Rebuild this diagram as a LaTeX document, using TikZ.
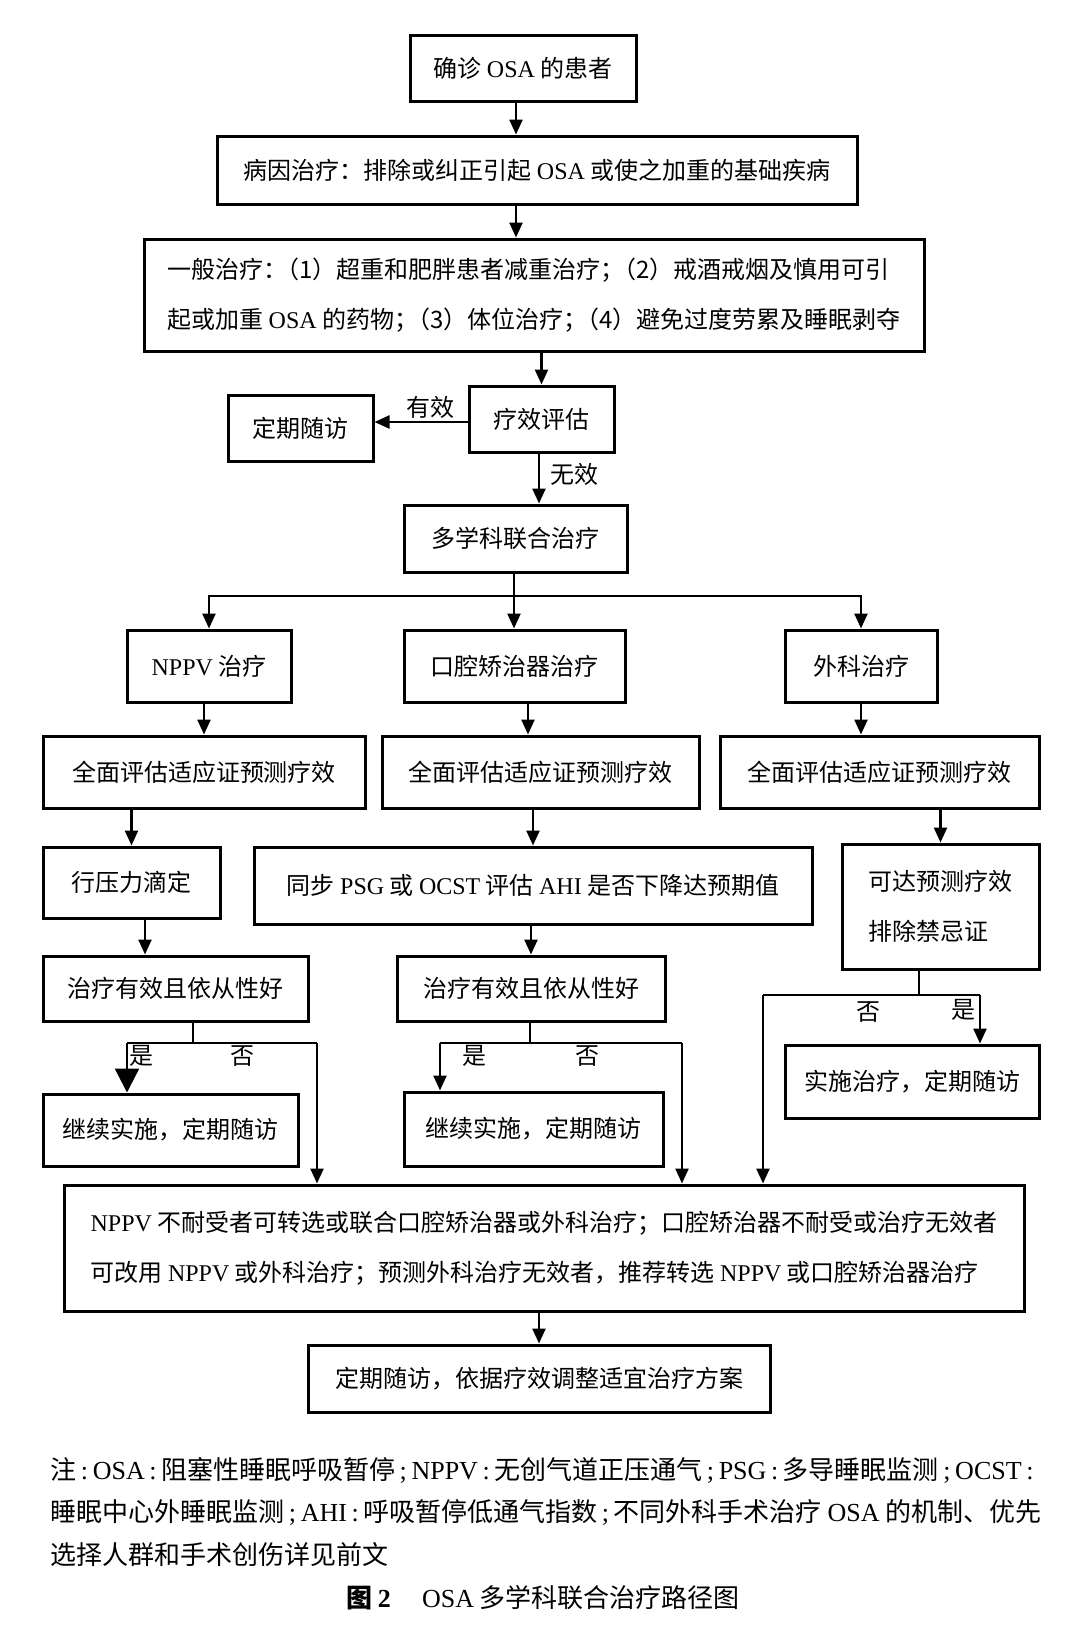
\documentclass[tikz,border=0pt]{standalone}
\usepackage{fontspec}
\setmainfont{Noto Sans CJK SC}
\newfontfamily\latf{Liberation Serif}
\newcommand\EN[1]{{\latf #1}}
\newcommand\PU[1]{\makebox[0.63em][c]{\latf #1}}
\newcommand\KP{\kern-0.5em}
\usetikzlibrary{arrows.meta,calc}
\begin{document}
\begin{tikzpicture}[x=0.5pt,y=-0.5pt,
  box/.style={draw,line width=1.5pt,inner sep=0pt,font=\fontsize{12pt}{25pt}\selectfont},
  arr/.style={line width=1.2pt,-{Triangle[length=7.5pt,width=6.5pt]}},
  bigarr/.style={line width=1.2pt,-{Triangle[length=12pt,width=12pt]}},
  ln/.style={line width=1.2pt},
  lab/.style={font=\fontsize{12pt}{14pt}\selectfont,inner sep=0pt},
  note/.style={font=\fontsize{13pt}{16pt}\selectfont,inner sep=0pt,anchor=west}]
\fill[white] (0,0) rectangle (1080,1630);
\useasboundingbox (0,0) rectangle (1080,1630);

% nodes
\node[box,minimum width=113pt,minimum height=33pt] (n1) at (523,68) {确诊 \EN{OSA} 的患者};
\node[box,minimum width=320pt,minimum height=34pt] (n2) at (537,170) {病因治疗：排除或纠正引起 \EN{OSA} 或使之加重的基础疾病};
\node[box,minimum width=390pt,minimum height=56pt,align=left] (n3) at (534,295) {一般治疗：\KP（1）超重和肥胖患者减重治疗；\KP（2）戒酒戒烟及慎用可引\\起或加重 \EN{OSA} 的药物；\KP（3）体位治疗；\KP（4）避免过度劳累及睡眠剥夺};
\node[box,minimum width=72.5pt,minimum height=33pt] (n4) at (541.5,419) {疗效评估};
\node[box,minimum width=72.5pt,minimum height=33pt] (n5) at (300.5,428) {定期随访};
\node[box,minimum width=111.5pt,minimum height=33.5pt] (n6) at (515.5,538.5) {多学科联合治疗};

\node[box,minimum width=82pt,minimum height=36pt] (nppv) at (209,666) {\EN{NPPV} 治疗};
\node[box,minimum width=110.5pt,minimum height=36pt] (kq) at (514.5,666) {口腔矫治器治疗};
\node[box,minimum width=76pt,minimum height=36pt] (wk) at (861,666) {外科治疗};

\node[box,minimum width=161pt,minimum height=36pt] (qL) at (204,772) {全面评估适应证预测疗效};
\node[box,minimum width=158.5pt,minimum height=36pt] (qM) at (540.5,772) {全面评估适应证预测疗效};
\node[box,minimum width=159.5pt,minimum height=36pt] (qR) at (879.5,772) {全面评估适应证预测疗效};

\node[box,minimum width=88.5pt,minimum height=35.5pt] (yl) at (131.5,882.5) {行压力滴定};
\node[box,minimum width=279pt,minimum height=38.5pt] (tb) at (533,885.5) {同步 \EN{PSG} 或 \EN{OCST} 评估 \EN{AHI} 是否下降达预期值};
\node[box,minimum width=98.5pt,minimum height=62.5pt,align=left] (kd) at (940.5,906.5) {可达预测疗效\\排除禁忌证};

\node[box,minimum width=132.5pt,minimum height=32.5pt] (zL) at (175.5,988.5) {治疗有效且依从性好};
\node[box,minimum width=134pt,minimum height=32.5pt] (zM) at (531,988.5) {治疗有效且依从性好};

\node[box,minimum width=127.5pt,minimum height=36pt] (jL) at (170.5,1130) {继续实施，定期随访};
\node[box,minimum width=129.5pt,minimum height=37pt] (jM) at (533.5,1129) {继续实施，定期随访};
\node[box,minimum width=127pt,minimum height=36.5pt] (ss) at (912,1081.5) {实施治疗，定期随访};

\node[box,minimum width=480pt,minimum height=63pt,align=left] (big) at (544,1248) {\EN{NPPV} 不耐受者可转选或联合口腔矫治器或外科治疗；口腔矫治器不耐受或治疗无效者\\可改用 \EN{NPPV} 或外科治疗；预测外科治疗无效者，推荐转选 \EN{NPPV} 或口腔矫治器治疗};
\node[box,minimum width=231pt,minimum height=33.5pt] (last) at (539,1378.5) {定期随访，依据疗效调整适宜治疗方案};

% connectors
\draw[arr] ([xshift=-3.5pt]n1.south) -- ([xshift=-3.5pt]n1.south |- n2.north);
\draw[arr] ([xshift=-10.5pt]n2.south) -- ([xshift=-10.5pt]n2.south |- n3.north);
\draw[arr] (n3.south -| n4.north) -- (n4.north);
\draw[arr] ([yshift=-1.5pt]n4.west) -- ([yshift=-1.5pt]n4.west -| n5.east);
\node[lab] (yx) at (430,407) {有效};
\draw[arr] ([xshift=-1.25pt]n4.south) -- ([xshift=-1.25pt]n4.south |- n6.north);
\node[lab] (wx) at (574,474) {无效};

\coordinate (bj) at (514,596);
\draw[ln] (n6.south -| bj) -- (bj);
\draw[arr] (bj) -| (nppv.north);
\draw[arr] (bj) -| (wk.north);
\draw[arr] (bj) -- (bj |- kq.north);

\draw[arr] (nppv.south -| qL.north) -- (qL.north);
\draw[arr] ([xshift=6.75pt]kq.south) -- ([xshift=6.75pt]kq.south |- qM.north);
\draw[arr] (wk.south) -- (wk.south |- qR.north);

\draw[arr] (qL.south -| yl.north) -- (yl.north);
\draw[arr] (qM.south -| tb.north) -- (tb.north);
\draw[arr] (qR.south -| kd.north) -- (kd.north);

\draw[arr] ([xshift=6.75pt]yl.south) -- ([xshift=6.75pt]yl.south |- zL.north);
\draw[arr] (tb.south -| zM.north) -- (zM.north);

% left branch
\coordinate (bL) at (193,1043);
\coordinate (bLl) at (127,1043);
\coordinate (bLr) at (317,1043);
\draw[ln] (zL.south -| bL) -- (bL);
\draw[ln] (bLl) -- (bLr);
\draw[bigarr] (bLl) -- (bLl |- jL.north);
\draw[arr] (bLr) -- (bLr |- big.north);
\node[lab] (sL) at (141,1056) {是};
\node[lab] (fL) at (242,1056) {否};

% middle branch
\coordinate (bM) at (530,1043);
\coordinate (bMl) at (440,1043);
\coordinate (bMr) at (682,1043);
\draw[ln] (zM.south -| bM) -- (bM);
\draw[ln] (bMl) -- (bMr);
\draw[arr] (bMl) -- (bMl |- jM.north);
\draw[arr] (bMr) -- (bMr |- big.north);
\node[lab] (sM) at (474,1056) {是};
\node[lab] (fM) at (587,1056) {否};

% right branch
\coordinate (bR) at (919,995);
\coordinate (bRl) at (763,995);
\coordinate (bRr) at (980,995);
\draw[ln] (kd.south -| bR) -- (bR);
\draw[ln] (bRl) -- (bRr);
\draw[arr] (bRr) -- (bRr |- ss.north);
\draw[arr] (bRl) -- (bRl |- big.north);
\node[lab] (fR) at (868,1012) {否};
\node[lab] (sR) at (963,1010) {是};

\draw[arr] (big.south -| last.north) -- (last.north);

% note
\node[note] (nt1) at (50,1470) {注\PU{:}\EN{OSA}\PU{:}阻塞性睡眠呼吸暂停\PU{;}\EN{NPPV}\PU{:}无创气道正压通气\PU{;}\EN{PSG}\PU{:}多导睡眠监测\PU{;}\EN{OCST}\PU{:}};
\node[note] (nt2) at (50,1512) {睡眠中心外睡眠监测\PU{;}\EN{AHI}\PU{:}呼吸暂停低通气指数\PU{;}不同外科手术治疗 \EN{OSA} 的机制、优先};
\node[note] (nt3) at (50,1555) {选择人群和手术创伤详见前文};
\node[font=\fontsize{13pt}{16pt}\selectfont,inner sep=0pt] (cap) at (543,1598) {\textbf{图 \EN{2}}\hspace{1.2em}\EN{OSA} 多学科联合治疗路径图};
\end{tikzpicture}
\end{document}
